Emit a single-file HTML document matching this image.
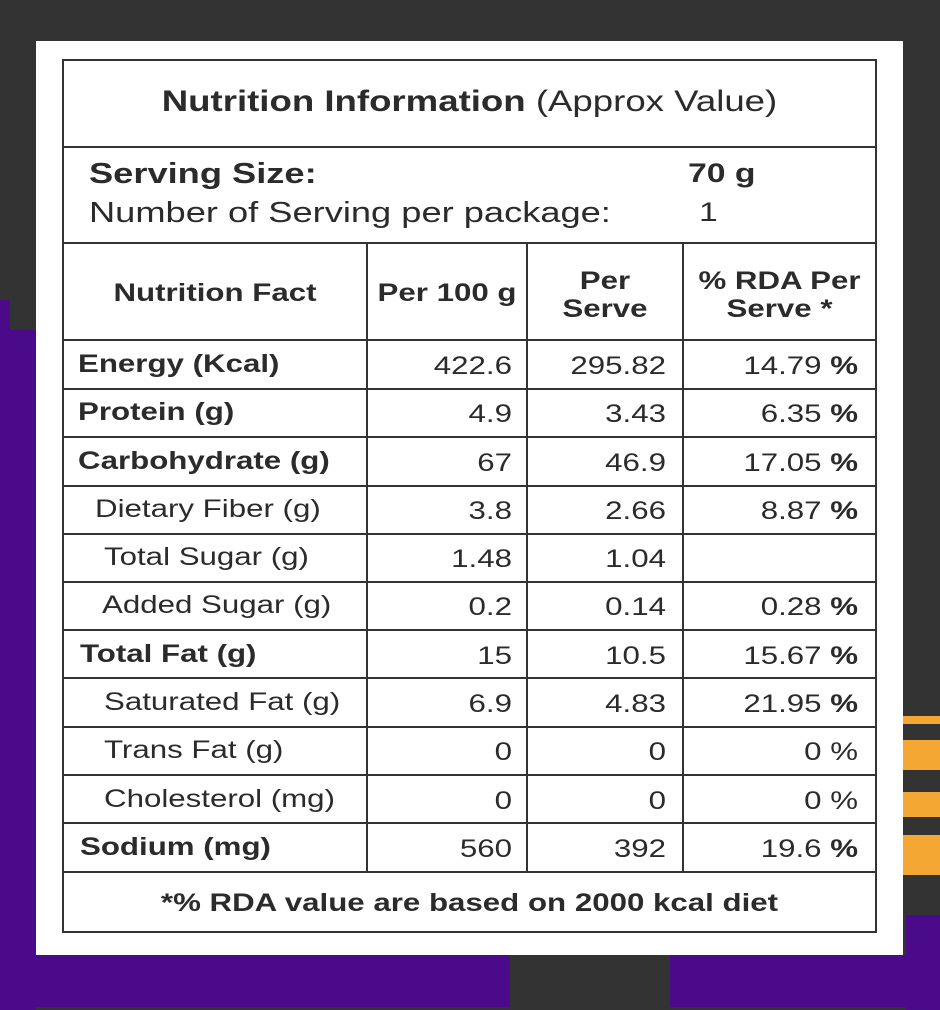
<!DOCTYPE html>
<html><head><style>
body{margin:0;width:940px;height:1010px;position:relative;overflow:hidden;background:#333;font-family:"Liberation Sans",Arial,sans-serif;color:#2b2b2b}
.a{position:absolute}
.panel{left:36px;top:41px;width:867px;height:914px;background:#fff}
.h{position:absolute;height:2px;background:#333}
.v{position:absolute;width:2px;background:#333}
.t{position:absolute;font-size:25px;white-space:nowrap;line-height:1;transform:scaleX(1.25);transform-origin:left center}
.b{font-weight:bold}
.r{text-align:right;transform-origin:right center}
.c{text-align:center;transform-origin:center center}
</style></head><body>
<div class="a" style="left:0;top:330px;width:36px;height:680px;background:#4b0a8a"></div>
<div class="a" style="left:0;top:300px;width:10px;height:40px;background:#4b0a8a"></div>
<div class="a" style="left:0;top:955px;width:510px;height:52px;background:#4b0a8a"></div>
<div class="a" style="left:670px;top:955px;width:270px;height:52px;background:#4b0a8a"></div>
<div class="a" style="left:906px;top:915px;width:34px;height:95px;background:#4b0a8a"></div>
<div class="a" style="left:903px;top:716px;width:37px;height:8px;background:#f5a733"></div>
<div class="a" style="left:903px;top:740px;width:37px;height:30px;background:#f5a733"></div>
<div class="a" style="left:903px;top:792px;width:37px;height:25px;background:#f5a733"></div>
<div class="a" style="left:903px;top:835px;width:37px;height:40px;background:#f5a733"></div>
<div class="a panel"></div>

<div class="h" style="left:62px;top:59px;width:815px"></div>
<div class="h" style="left:62px;top:146px;width:815px"></div>
<div class="h" style="left:62px;top:242px;width:815px"></div>
<div class="h" style="left:62px;top:339px;width:815px"></div>
<div class="h" style="left:62px;top:388px;width:815px"></div>
<div class="h" style="left:62px;top:436px;width:815px"></div>
<div class="h" style="left:62px;top:485px;width:815px"></div>
<div class="h" style="left:62px;top:533px;width:815px"></div>
<div class="h" style="left:62px;top:581px;width:815px"></div>
<div class="h" style="left:62px;top:629px;width:815px"></div>
<div class="h" style="left:62px;top:677px;width:815px"></div>
<div class="h" style="left:62px;top:726px;width:815px"></div>
<div class="h" style="left:62px;top:774px;width:815px"></div>
<div class="h" style="left:62px;top:822px;width:815px"></div>
<div class="h" style="left:62px;top:871px;width:815px"></div>
<div class="h" style="left:62px;top:931px;width:815px"></div>
<div class="v" style="left:62px;top:59px;height:874px"></div>
<div class="v" style="left:875px;top:59px;height:874px"></div>
<div class="v" style="left:366px;top:242px;height:631px"></div>
<div class="v" style="left:526px;top:242px;height:631px"></div>
<div class="v" style="left:682px;top:242px;height:631px"></div>

<div class="t c" style="left:62px;width:815px;top:87px;font-size:30px;transform:scaleX(1.22)"><b>Nutrition Information</b> (Approx Value)</div>
<div class="t b" style="left:89px;top:160px;font-size:29px">Serving Size:</div>
<div class="t b" style="left:688px;top:160px;font-size:27px">70 g</div>
<div class="t" style="left:89px;top:199px;font-size:29px">Number of Serving per package:</div>
<div class="t" style="left:699px;top:199px;font-size:27px">1</div>

<div class="t b c" style="left:64px;width:302px;top:281px">Nutrition Fact</div>
<div class="t b c" style="left:368px;width:158px;top:281px">Per 100 g</div>
<div class="t b c" style="left:528px;width:154px;top:267px;line-height:28px">Per<br>Serve</div>
<div class="t b c" style="left:684px;width:191px;top:267px;line-height:28px">% RDA Per<br>Serve *</div>

<div class="t b" style="left:78px;top:352px">Energy (Kcal)</div>
<div class="t b" style="left:78px;top:400px">Protein (g)</div>
<div class="t b" style="left:78px;top:449px">Carbohydrate (g)</div>
<div class="t" style="left:95px;top:497px">Dietary Fiber (g)</div>
<div class="t" style="left:104px;top:545px">Total Sugar (g)</div>
<div class="t" style="left:102px;top:593px">Added Sugar (g)</div>
<div class="t b" style="left:80px;top:642px">Total Fat (g)</div>
<div class="t" style="left:104px;top:690px">Saturated Fat (g)</div>
<div class="t" style="left:104px;top:738px">Trans Fat (g)</div>
<div class="t" style="left:104px;top:787px">Cholesterol (mg)</div>
<div class="t b" style="left:80px;top:835px">Sodium (mg)</div>

<div style="position:absolute;left:368px;width:144px;top:0">
<div class="t r" style="width:144px;top:354px">422.6</div>
<div class="t r" style="width:144px;top:402px">4.9</div>
<div class="t r" style="width:144px;top:451px">67</div>
<div class="t r" style="width:144px;top:499px">3.8</div>
<div class="t r" style="width:144px;top:547px">1.48</div>
<div class="t r" style="width:144px;top:595px">0.2</div>
<div class="t r" style="width:144px;top:644px">15</div>
<div class="t r" style="width:144px;top:692px">6.9</div>
<div class="t r" style="width:144px;top:740px">0</div>
<div class="t r" style="width:144px;top:789px">0</div>
<div class="t r" style="width:144px;top:837px">560</div>
</div>
<div style="position:absolute;left:528px;width:138px;top:0">
<div class="t r" style="width:138px;top:354px">295.82</div>
<div class="t r" style="width:138px;top:402px">3.43</div>
<div class="t r" style="width:138px;top:451px">46.9</div>
<div class="t r" style="width:138px;top:499px">2.66</div>
<div class="t r" style="width:138px;top:547px">1.04</div>
<div class="t r" style="width:138px;top:595px">0.14</div>
<div class="t r" style="width:138px;top:644px">10.5</div>
<div class="t r" style="width:138px;top:692px">4.83</div>
<div class="t r" style="width:138px;top:740px">0</div>
<div class="t r" style="width:138px;top:789px">0</div>
<div class="t r" style="width:138px;top:837px">392</div>
</div>
<div style="position:absolute;left:684px;width:174px;top:0">
<div class="t r" style="width:174px;top:354px">14.79 <b>%</b></div>
<div class="t r" style="width:174px;top:402px">6.35 <b>%</b></div>
<div class="t r" style="width:174px;top:451px">17.05 <b>%</b></div>
<div class="t r" style="width:174px;top:499px">8.87 <b>%</b></div>
<div class="t r" style="width:174px;top:595px">0.28 <b>%</b></div>
<div class="t r" style="width:174px;top:644px">15.67 <b>%</b></div>
<div class="t r" style="width:174px;top:692px">21.95 <b>%</b></div>
<div class="t r" style="width:174px;top:740px">0 %</div>
<div class="t r" style="width:174px;top:789px">0 %</div>
<div class="t r" style="width:174px;top:837px">19.6 <b>%</b></div>
</div>

<div class="t b c" style="left:62px;width:815px;top:891px">*% RDA value are based on 2000 kcal diet</div>
</body></html>
